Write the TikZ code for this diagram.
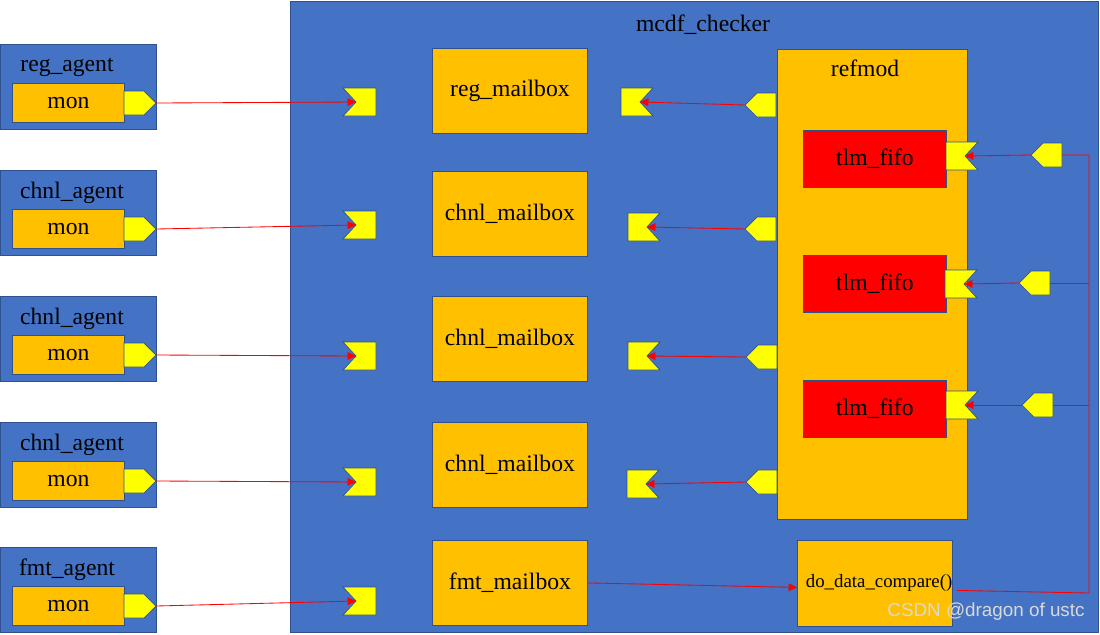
\documentclass[tikz,border=0pt]{standalone}
\usepackage{fontspec}
\newfontfamily\diagfont{Liberation Serif}
\newfontfamily\markfont{Liberation Sans}
\usetikzlibrary{arrows.meta}
\definecolor{boxblue}{HTML}{4472C4}
\definecolor{edgeblue}{HTML}{2F528F}
\definecolor{boxorange}{HTML}{FFC000}
\definecolor{portyellow}{HTML}{FFFF00}
\definecolor{wirered}{HTML}{FF0000}
\newcommand{\pxl}{0.025cm}
\tikzset{>={Triangle[length=6pt,width=5.5pt]}}
\tikzset{
  every node/.style={font=\diagfont\fontsize{16.8}{20}\selectfont},
  sized/.style 2 args={anchor=north west, inner sep=0pt,
    minimum width=#1*\pxl, minimum height=#2*\pxl},
  blk/.style={draw=edgeblue, line width=0.6pt},
  bluebox/.style={blk, fill=boxblue},
  orangebox/.style={blk, fill=boxorange},
  fifobox/.style={blk, fill=red},
  port/.style={draw=edgeblue, line width=0.5pt, fill=portyellow},
  wire/.style={draw=wirered, line width=0.6pt}
}
% export port pointing right: name, left x, centre y
\newcommand{\portR}[3]{%
  \draw[port] (#2,#3-12) -- (#2+20,#3-12) -- (#2+32,#3) -- (#2+20,#3+12) -- (#2,#3+12) -- cycle;
  \coordinate (#1) at (#2+32,#3);}
% export port pointing left: name, tip x, centre y
\newcommand{\portL}[3]{%
  \draw[port] (#2,#3) -- (#2+12,#3-12) -- (#2+31,#3-12) -- (#2+31,#3+12) -- (#2+12,#3+12) -- cycle;
  \coordinate (#1) at (#2,#3);
  \coordinate (#1-back) at (#2+31,#3);}
% import port, notch on the left
\newcommand{\sockL}[3]{%
  \draw[port] (#2,#3-14) -- (#2+33,#3-14) -- (#2+33,#3+14) -- (#2,#3+14) -- (#2+13,#3) -- cycle;
  \coordinate (#1) at (#2+13,#3);}
% import port, notch on the right
\newcommand{\sockR}[3]{%
  \draw[port] (#2,#3-14) -- (#2+32,#3-14) -- (#2+19,#3) -- (#2+32,#3+14) -- (#2,#3+14) -- cycle;
  \coordinate (#1) at (#2+19,#3);}

\begin{document}
\begin{tikzpicture}[x=0.025cm, y=-0.025cm]
  \fill[white] (0,0) rectangle (1100,634);
  \useasboundingbox (0,0) rectangle (1100,634);

  % checker
  \node[bluebox, sized={808}{631}] (checker) at (290,1) {};
  \node (title) at (703,25) {mcdf\_checker};

  % agents
  \foreach \n/\lbl/\top/\lx in {1/reg\_agent/44/67, 2/chnl\_agent/170/72,
      3/chnl\_agent/296/72, 4/chnl\_agent/422/72, 5/fmt\_agent/547/67} {
    \node[bluebox, sized={156}{85}] (agent\n) at (0,\top) {};
    \node (agentlbl\n) at (\lx,\top+23) {\lbl};
    \node[orangebox, sized={112}{39}] (mon\n) at (12,\top+39) {mon};
    \portR{aout\n}{124}{\top+59}
  }

  % mailboxes
  \node[orangebox, sized={155}{85}] (regmb) at (432,48) {reg\_mailbox};
  \node[orangebox, sized={155}{85}] (chnlmb1) at (432,171) {chnl\_mailbox};
  \node[orangebox, sized={155}{85}] (chnlmb2) at (432,296) {chnl\_mailbox};
  \node[orangebox, sized={155}{85}] (chnlmb3) at (432,422) {chnl\_mailbox};
  \node[orangebox, sized={155}{85}] (fmtmb) at (432,540) {fmt\_mailbox};

  \sockL{mbin1}{343}{102}
  \sockL{mbin2}{343}{225}
  \sockL{mbin3}{343}{356}
  \sockL{mbin4}{343}{482}
  \sockL{mbin5}{343}{601}

  \sockR{mbout1}{621}{102}
  \sockR{mbout2}{628}{227}
  \sockR{mbout3}{628}{356}
  \sockR{mbout4}{627}{484}

  % refmod
  \node[orangebox, sized={190}{470}] (refmod) at (777,49) {};
  \node (refmodlbl) at (865,68) {refmod};
  \node[fifobox, sized={143}{57}] (fifo1) at (803,130) {tlm\_fifo};
  \node[fifobox, sized={143}{57}] (fifo2) at (803,255) {tlm\_fifo};
  \node[fifobox, sized={143}{57}] (fifo3) at (803,380) {tlm\_fifo};

  \portL{rmout1}{745}{105}
  \portL{rmout2}{745}{229}
  \portL{rmout3}{746}{357}
  \portL{rmout4}{746}{482}

  \sockR{ffin1}{946}{156}
  \sockR{ffin2}{945}{284}
  \sockR{ffin3}{946}{405}

  \portL{rin1}{1031}{155}
  \portL{rin2}{1019}{283}
  \portL{rin3}{1022}{405}

  % compare
  \node[orangebox, sized={154}{86}, font=\diagfont\fontsize{13.4}{16}\selectfont] (cmp) at (797,540) {\hspace*{6pt}do\_data\_compare()};

  % wires
  \foreach \n in {1,...,5}
    \draw[wire,->] (aout\n) -- (mbin\n);
  \foreach \n in {1,...,4}
    \draw[wire,->] (rmout\n) -- (mbout\n);
  \foreach \n in {1,2,3}
    \draw[wire,->] (rin\n) -- (ffin\n);

  \coordinate (bustop) at (1089,155);
  \coordinate (busbot) at (1089,593);
  \draw[wire] ([xshift=4*\pxl, yshift=-7*\pxl]cmp.east) -- (busbot) -- (bustop) -- (rin1-back);
  \draw[wire] (rin2-back) -- (rin2-back -| bustop);
  \draw[wire] (rin3-back) -- (rin3-back -| bustop);
  \draw[wire,->] (fmtmb.east) -- ([yshift=-4*\pxl]cmp.west);

  \node[font=\markfont\fontsize{13.4}{16}\selectfont, text=white!85!black] (mark) at (986,612) {CSDN @dragon of ustc};
\end{tikzpicture}
\end{document}
